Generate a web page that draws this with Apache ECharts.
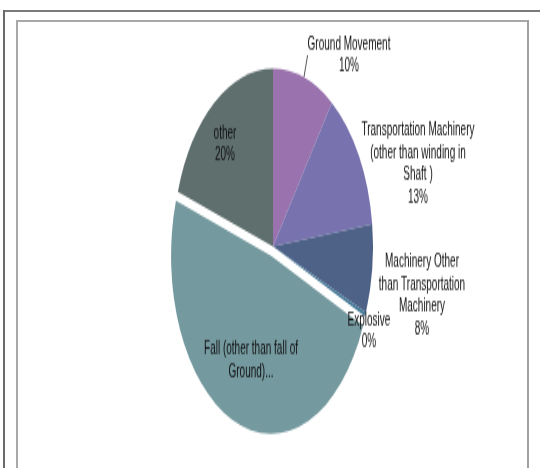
<!DOCTYPE html>
<html>
<head>
<meta charset="utf-8">
<script src="https://cdn.jsdelivr.net/npm/echarts@6/dist/echarts.min.js"></script>
<style>
  html, body { margin: 0; padding: 0; background: #ffffff; }
  #wrap { position: relative; width: 540px; height: 468px; overflow: hidden; background: #fff; }
  #chart { position: absolute; left: 0; top: 0; width: 540px; height: 263px;
           transform: scaleY(1.7795); transform-origin: 0 0; }
  .ln { position: absolute; }
</style>
</head>
<body>
<div id="wrap">
  <div id="chart"></div>
  <div class="ln" style="left:3px;top:10px;width:537px;height:2px;background:#7a7a7a"></div>
  <div class="ln" style="left:3px;top:10px;width:2px;height:458px;background:#6a6a6a"></div>
  <div class="ln" style="left:16px;top:20px;width:513px;height:2px;background:#a8a8a8"></div>
  <div class="ln" style="left:16px;top:20px;width:2px;height:448px;background:#a8a8a8"></div>
  <div class="ln" style="left:527px;top:20px;width:2px;height:448px;background:#a0a0a0"></div>
</div>
<script>
// ---- data ----
const categories = [
  'Ground Movement',
  'Transportation Machinery (other than winding in Shaft )',
  'Machinery Other than Transportation Machinery',
  'Explosive',
  'Fall (other than fall of Ground)...',
  'other'
];
const labelTexts = [
  'Ground Movement',
  'Transportation Machinery\n(other than winding in\nShaft )',
  'Machinery Other\nthan Transportation\nMachinery',
  'Explosive',
  'Fall (other than fall of\nGround)...',
  'other'
];
const values = [10, 13, 8, 0.4, 48.6, 20];
const showPercent = [true, true, true, true, false, true];
const colors = ['#9a72ae', '#7873ae', '#4e6187', '#4a7c9a', '#74999f', '#5f6f6e'];
const explodedIndex = 4;

// ---- layout (chart coords before vertical stretch) ----
const labelPos = [
  [349, 31], [418, 92], [422, 166], [369, 186], [251, 202.5], [225, 81]
];

const labelBase = {
  fontFamily: '"Liberation Sans Narrow", "Liberation Sans", sans-serif',
  fontSize: 10,
  lineHeight: 12.5,
  color: '#111',
  align: 'center',
  formatter: function (p) {
    const t = labelTexts[p.dataIndex];
    return showPercent[p.dataIndex] ? t + '\n' + Math.round(p.percent) + '%' : t;
  }
};
const layoutFn = function (p) {
  const pos = labelPos[p.dataIndex];
  return { x: pos[0], y: pos[1], align: 'center', verticalAlign: 'middle' };
};

const chart = echarts.init(document.getElementById('chart'), null, { renderer: 'canvas' });

// visible slices (exploded slice selected, its label drawn by the overlay series)
const sliceData = categories.map((c, i) => ({
  name: c,
  value: values[i],
  selected: i === explodedIndex,
  itemStyle: { color: colors[i] },
  label: { show: i !== explodedIndex, position: i === 5 ? 'inside' : 'outside' },
  labelLine: { show: i === 0, length: 4, length2: 0, lineStyle: { color: '#555', width: 1 } }
}));
// overlay: transparent, only carries the label of the exploded slice
const overlayData = categories.map((c, i) => ({
  name: c,
  value: values[i],
  itemStyle: { color: 'rgba(0,0,0,0)' },
  label: { show: i === explodedIndex, position: 'inside' },
  labelLine: { show: false }
}));

const common = {
  type: 'pie',
  center: [273, 138.6],
  radius: [0, 100],
  startAngle: 90,
  clockwise: true,
  emphasis: { disabled: true },
  avoidLabelOverlap: false,
  itemStyle: { borderWidth: 0 },
  label: labelBase,
  labelLayout: layoutFn
};

chart.setOption({
  animation: false,
  backgroundColor: 'transparent',
  series: [
    Object.assign({}, common, { selectedMode: 'single', selectedOffset: 5.5, data: sliceData }),
    Object.assign({}, common, { silent: true, selectedMode: false, data: overlayData })
  ]
});
</script>
</body>
</html>
